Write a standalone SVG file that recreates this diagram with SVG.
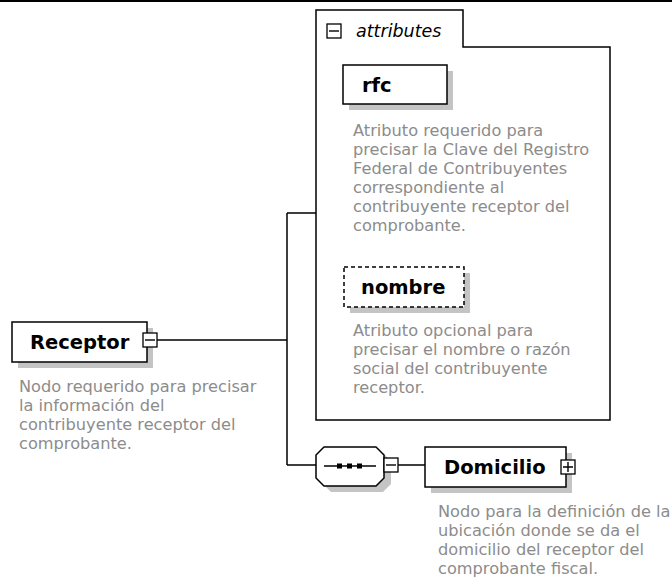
<svg xmlns="http://www.w3.org/2000/svg" width="672" height="586" viewBox="0 0 672 586">
<style>
.box{fill:#fff;stroke:#000;stroke-width:1.5}
.shadow{fill:#c4c4c4}
.line{fill:none;stroke:#000;stroke-width:1.5}
.lbl{font-family:"DejaVu Sans",sans-serif;font-weight:bold;font-size:19.5px;fill:#000}
.doc{font-family:"DejaVu Sans",sans-serif;font-size:16.2px;fill:#8c8c8c}
.ital{font-family:"DejaVu Sans",sans-serif;font-style:italic;font-size:17.5px;fill:#000}
.icon{fill:#fff;stroke:#000;stroke-width:1.3}
</style>
<defs>
<g id="minus"><rect class="icon" x="-7" y="-7" width="14" height="14"/><path d="M-5 0H5" stroke="#000" stroke-width="1.4"/></g>
<g id="plus"><rect class="icon" x="-7" y="-7" width="14" height="14"/><path d="M-5 0H5M0 -5V5" stroke="#000" stroke-width="1.4"/></g>
</defs>
<rect x="0" y="0" width="672" height="2" fill="#000"/>
<g id="connectors">
<path class="line" d="M157 340H287M287 213V465M287 213H316M287 465H316M398 465H425"/>
</g>
<g id="attributes">
<path class="box" d="M316 420V10H463V47H610V420Z"/>
<use href="#minus" x="334" y="31"/>
<text class="ital" x="356" y="37">attributes</text>
</g>
<g id="rfc">
<rect class="shadow" x="349" y="71" width="104" height="39"/>
<rect class="box" x="343" y="65" width="104" height="39"/>
<text class="lbl" x="362" y="92">rfc</text>
<text class="doc"><tspan x="353" y="136">Atributo requerido para</tspan><tspan x="353" y="155">precisar la Clave del Registro</tspan><tspan x="353" y="174">Federal de Contribuyentes</tspan><tspan x="353" y="193">correspondiente al</tspan><tspan x="353" y="212">contribuyente receptor del</tspan><tspan x="353" y="231">comprobante.</tspan></text>
</g>
<g id="nombre">
<rect class="shadow" x="350" y="273" width="120" height="40"/>
<rect class="box" x="344" y="267" width="120" height="40" stroke-dasharray="4 3"/>
<text class="lbl" x="361" y="294">nombre</text>
<text class="doc"><tspan x="353" y="336">Atributo opcional para</tspan><tspan x="353" y="355">precisar el nombre o razón</tspan><tspan x="353" y="374">social del contribuyente</tspan><tspan x="353" y="393">receptor.</tspan></text>
</g>
<g id="Receptor">
<rect class="shadow" x="18" y="328" width="135" height="40"/>
<rect class="box" x="12" y="322" width="135" height="40"/>
<text class="lbl" x="30" y="349">Receptor</text>
<use href="#minus" x="150" y="340"/>
<text class="doc"><tspan x="19" y="392">Nodo requerido para precisar</tspan><tspan x="19" y="411">la información del</tspan><tspan x="19" y="430">contribuyente receptor del</tspan><tspan x="19" y="449">comprobante.</tspan></text>
</g>
<g id="sequence">
<path class="shadow" d="M331 453H383L391 461V484L383 492H331L323 484V461Z"/>
<path class="box" d="M324 447H376L384 455V478L376 486H324L316 478V455Z"/>
<path d="M324 466H376" stroke="#000" stroke-width="1.3"/>
<rect x="337" y="463.5" width="5" height="5" fill="#000"/>
<rect x="347" y="463.5" width="5" height="5" fill="#000"/>
<rect x="357" y="463.5" width="5" height="5" fill="#000"/>
<use href="#minus" x="391" y="465"/>
</g>
<g id="Domicilio">
<rect class="shadow" x="431" y="453" width="141" height="40"/>
<rect class="box" x="425" y="447" width="141" height="40"/>
<text class="lbl" x="444" y="474">Domicilio</text>
<use href="#plus" x="568" y="467"/>
<text class="doc"><tspan x="438" y="517">Nodo para la definición de la</tspan><tspan x="438" y="536">ubicación donde se da el</tspan><tspan x="438" y="555">domicilio del receptor del</tspan><tspan x="438" y="574">comprobante fiscal.</tspan></text>
</g>
</svg>
